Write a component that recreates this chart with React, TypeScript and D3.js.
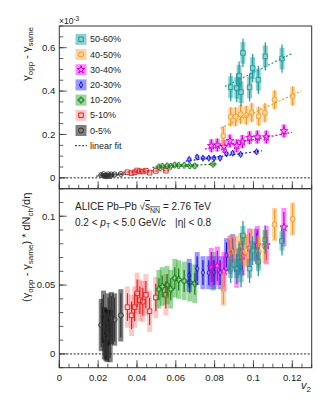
import React from "react";
import * as d3 from "d3";

const W = 332;
const H = 400;
const FONT = "'Liberation Sans', Arial, Helvetica, sans-serif";

// Centrality classes (legend order)
const classes = ["50-60%", "40-50%", "30-40%", "20-30%", "10-20%", "5-10%", "0-5%"];
const shapes = ["square", "circle", "star", "diamond", "cross", "square", "circle"];
const markerColors = ["#1a9a9a", "#e8a020", "#cc00cc", "#1010dd", "#1a7a1a", "#e02020", "#333333"];
const boxBase = ["#009999", "#ff9933", "#ff00ff", "#0000ff", "#009900", "#ff0000", "#000000"];
const boxAlpha = [0.45, 0.45, 0.45, 0.4, 0.4, 0.22, 0.5];

// v2 per class
const v2_5060 = [0.0883, 0.0914, 0.0926, 0.0936, 0.0946, 0.098, 0.0996, 0.1025, 0.1061, 0.1147];
const v2_4050 = [0.0845, 0.0883, 0.0908, 0.0934, 0.0963, 0.0991, 0.1027, 0.1059, 0.1109, 0.1202];
const v2_3040 = [0.0783, 0.0814, 0.0848, 0.0879, 0.0914, 0.0943, 0.098, 0.102, 0.1066, 0.1157];
const v2_2030 = [0.0669, 0.071, 0.074, 0.077, 0.0797, 0.0828, 0.0861, 0.0893, 0.0934, 0.1016];
const v2_1020 = [0.0513, 0.053, 0.0555, 0.0574, 0.0595, 0.0615, 0.0643, 0.0672, 0.0698, 0.0792];
const v2_0510 = [0.0351, 0.0372, 0.0388, 0.0401, 0.0415, 0.043, 0.0446, 0.0465, 0.0497, 0.0549];
const v2_0005 = [0.0216, 0.0228, 0.0232, 0.024, 0.0246, 0.0252, 0.0262, 0.0268, 0.0285, 0.0317];

// Top panel: gamma_opp - gamma_same (x 1e-3)
const top_5060 = [0.418, 0.414, 0.471, 0.395, 0.576, 0.417, 0.506, 0.452, 0.56, 0.55];
const top_4050 = [0.193, 0.282, 0.282, 0.293, 0.289, 0.301, 0.284, 0.3, 0.36, 0.377];
const top_3040 = [0.148, 0.151, 0.144, 0.17, 0.148, 0.167, 0.185, 0.188, 0.188, 0.216];
const top_2030 = [0.085, 0.096, 0.091, 0.091, 0.091, 0.091, 0.111, 0.114, 0.108, 0.12];
const top_1020 = [0.05, 0.053, 0.055, 0.053, 0.059, 0.057, 0.058, 0.056, 0.055, 0.063];
const top_0510 = [0.026, 0.022, 0.026, 0.034, 0.03, 0.029, 0.033, 0.024, 0.032, 0.033];
const top_0005 = [0.013, 0.017, 0.009, 0.009, 0.008, 0.016, 0.008, 0.016, 0.016, 0.018];

// Bottom panel: (gamma_opp - gamma_same) * dNch/deta
const bot_5060 = [0.062, 0.062, 0.07, 0.059, 0.086, 0.062, 0.075, 0.067, 0.083, 0.082];
const bot_4050 = [0.047, 0.074, 0.074, 0.076, 0.075, 0.079, 0.074, 0.078, 0.094, 0.098];
const bot_3040 = [0.063, 0.064, 0.06, 0.072, 0.062, 0.071, 0.077, 0.079, 0.079, 0.092];
const bot_2030 = [0.057, 0.062, 0.059, 0.059, 0.059, 0.059, 0.072, 0.075, 0.07, 0.079];
const bot_1020 = [0.047, 0.049, 0.05, 0.047, 0.055, 0.054, 0.053, 0.052, 0.051, 0.06];
const bot_0510 = [0.034, 0.028, 0.034, 0.044, 0.039, 0.038, 0.043, 0.031, 0.041, 0.043];
const bot_0005 = [0.021, 0.027, 0.015, 0.014, 0.013, 0.025, 0.013, 0.026, 0.025, 0.028];

const v2s = [v2_5060, v2_4050, v2_3040, v2_2030, v2_1020, v2_0510, v2_0005];
const tops = [top_5060, top_4050, top_3040, top_2030, top_1020, top_0510, top_0005];
const bots = [bot_5060, bot_4050, bot_3040, bot_2030, bot_1020, bot_0510, bot_0005];

// Uncertainties per class
const statTop = [0.065, 0.045, 0.03, 0.01, 0.007, 0.006, 0.006];
const sysTop = [0.05, 0.042, 0.03, 0.009, 0.007, 0.006, 0.006];
const statBot = [0.0105, 0.011, 0.011, 0.009, 0.008, 0.01, 0.016];
const sysBot = [0.007, 0.012, 0.014, 0.012, 0.014, 0.015, 0.019];

// Linear fits (top panel)
const fitX0 = [0.0853, 0.0831, 0.0749, 0.0651, 0.048, 0.033, 0.019];
const fitX1 = [0.1198, 0.1246, 0.1198, 0.1044, 0.081, 0.057, 0.034];
const fitY0 = [0.421, 0.229, 0.133, 0.077, 0.048, 0.026, 0.008];
const fitY1 = [0.573, 0.401, 0.21, 0.125, 0.064, 0.035, 0.017];

// Axes
const xTicks = [0, 0.02, 0.04, 0.06, 0.08, 0.1, 0.12];
const xTickLabels = ["0", "0.02", "0.04", "0.06", "0.08", "0.1", "0.12"];
const topTicks = [0, 0.2, 0.4, 0.6];
const topTickLabels = ["0", "0.2", "0.4", "0.6"];
const botTicks = [0, 0.05, 0.1];
const botTickLabels = ["0", "0.05", "0.1"];

const L = 59.3, R = 311.7, T = 26, M = 188.7, B = 367.7;
const x = d3.scaleLinear().domain([0, 0.13]).range([L, R]);
const yTop = d3.scaleLinear().domain([-0.05, 0.7]).range([M, T]);
const yBot = d3.scaleLinear().domain([-0.01, 0.12]).range([B, M]);

function markerPath(shape: string): string {
  switch (shape) {
    case "square":
      return d3.symbol(d3.symbolSquare, 21)() as string;
    case "circle":
      return d3.symbol(d3.symbolCircle, 20)() as string;
    case "star":
      return d3.symbol(d3.symbolStar, 19)() as string;
    case "diamond":
      return "M0,-3.2L1.6,0L0,3.2L-1.6,0Z";
    case "cross":
      return d3.symbol(d3.symbolCross, 18)() as string;
  }
  return "";
}

function minorTicks(scale: d3.ScaleLinear<number, number>, step: number) {
  const [a, b] = scale.domain();
  const out: number[] = [];
  const start = Math.ceil(a / step - 1e-9);
  const end = Math.floor(b / step + 1e-9);
  for (let i = start; i <= end; i++) out.push(i * step);
  return out;
}

function Points({ y, vals, stat, sys }: any) {
  const order = [6, 5, 4, 3, 2, 1, 0];
  const bw = 2.5;
  const half = 2.5;
  return (
    <g>
      {order.map((c) => (
        <g key={c}>
          {v2s[c].map((v, i) => (
            <rect key={"s" + i} x={x(v) - bw} width={bw * 2}
              y={y(vals[c][i] + sys[c])} height={Math.max(0, y(vals[c][i] - sys[c]) - y(vals[c][i] + sys[c]))}
              fill={boxBase[c]} fillOpacity={boxAlpha[c]} />
          ))}
          {v2s[c].map((v, i) => {
            const cy = y(vals[c][i]);
            const y1 = y(vals[c][i] + stat[c]);
            const y2 = y(vals[c][i] - stat[c]);
            return (
              <g key={"e" + i} stroke={markerColors[c]} strokeWidth={1.2}>
                {y1 < cy - half && <line x1={x(v)} x2={x(v)} y1={y1} y2={cy - half} />}
                {y2 > cy + half && <line x1={x(v)} x2={x(v)} y1={cy + half} y2={y2} />}
              </g>
            );
          })}
          {v2s[c].map((v, i) => (
            <path key={"m" + i} d={markerPath(shapes[c])}
              transform={`translate(${x(v)},${y(vals[c][i])})`}
              fill="none" stroke={markerColors[c]} strokeWidth={0.9} />
          ))}
        </g>
      ))}
    </g>
  );
}

function YAxis({ scale, ticks, labels, minorStep }: any) {
  const minors = minorTicks(scale, minorStep);
  return (
    <g>
      {minors.map((t: number, i: number) => (
        <line key={"n" + i} x1={L} x2={L + 4} y1={scale(t)} y2={scale(t)} stroke="#333" strokeWidth={0.8} />
      ))}
      {ticks.map((t: number, i: number) => (
        <g key={i}>
          <line x1={L} x2={L + 7.5} y1={scale(t)} y2={scale(t)} stroke="#333" strokeWidth={0.8} />
          <text x={L - 4} y={scale(t)} dy="0.35em" textAnchor="end" fontSize={9.5} fill="#222" fontFamily={FONT}>
            {labels[i]}
          </text>
        </g>
      ))}
    </g>
  );
}

function XTicks({ yPos, showLabels }: any) {
  const minors = minorTicks(x, 0.005);
  return (
    <g>
      {minors.map((t, i) => (
        <line key={"n" + i} x1={x(t)} x2={x(t)} y1={yPos} y2={yPos - 4} stroke="#333" strokeWidth={0.8} />
      ))}
      {xTicks.map((t, i) => (
        <g key={i}>
          <line x1={x(t)} x2={x(t)} y1={yPos} y2={yPos - 7.5} stroke="#333" strokeWidth={0.8} />
          {showLabels && (
            <text x={x(t)} y={yPos + 13} textAnchor="middle" fontSize={9.5} fill="#222" fontFamily={FONT}>
              {xTickLabels[i]}
            </text>
          )}
        </g>
      ))}
    </g>
  );
}

export default function App() {
  const legendY0 = 39.3;
  const legendDy = 15.2;
  return (
    <svg width={W} height={H} style={{ position: "absolute", left: 0, top: 0, background: "#fff" }}
      fontFamily={FONT}>
      <rect x={0} y={0} width={W} height={H} fill="#fff" />

      {/* zero lines */}
      <line x1={L} x2={R} y1={yTop(0)} y2={yTop(0)} stroke="#222" strokeWidth={1} strokeDasharray="2,1.6" />
      <line x1={L} x2={R} y1={yBot(0)} y2={yBot(0)} stroke="#222" strokeWidth={1} strokeDasharray="2,1.6" />

      {/* top panel data */}
      <Points y={yTop} vals={tops} stat={statTop} sys={sysTop} />
      {classes.map((c, i) => (
        <line key={"fit" + i} x1={x(fitX0[i])} x2={x(fitX1[i])} y1={yTop(fitY0[i])} y2={yTop(fitY1[i])}
          stroke={markerColors[i]} strokeWidth={1.2} strokeDasharray="2,2" />
      ))}

      {/* bottom panel data */}
      <Points y={yBot} vals={bots} stat={statBot} sys={sysBot} />

      {/* frames */}
      <rect x={L} y={T} width={R - L} height={M - T} fill="none" stroke="#333" strokeWidth={1} />
      <rect x={L} y={M} width={R - L} height={B - M} fill="none" stroke="#333" strokeWidth={1} />

      <YAxis scale={yTop} ticks={topTicks} labels={topTickLabels} minorStep={0.05} />
      <YAxis scale={yBot} ticks={botTicks} labels={botTickLabels} minorStep={0.01} />
      <XTicks yPos={M} showLabels={false} />
      <XTicks yPos={B} showLabels={true} />

      {/* x10^-3 */}
      <text x={59} y={24} fontSize={8.5} fill="#222">
        ×10<tspan dy={-3} fontSize={6.5}>-3</tspan>
      </text>

      {/* y axis titles */}
      <text transform={`translate(30,${T + 1}) rotate(-90)`} textAnchor="end" fontSize={11} fill="#222">
        γ<tspan dy={2.5} fontSize={8}>opp</tspan><tspan dy={-2.5}> - γ</tspan>
        <tspan dy={2.5} fontSize={8}>same</tspan>
      </text>
      <text transform={`translate(30,${M + 4}) rotate(-90)`} textAnchor="end" fontSize={11} fill="#222">
        (γ<tspan dy={2.5} fontSize={8}>opp</tspan><tspan dy={-2.5}> - γ</tspan>
        <tspan dy={2.5} fontSize={8}>same</tspan><tspan dy={-2.5}>) * dN</tspan>
        <tspan dy={2.5} fontSize={8}>ch</tspan><tspan dy={-2.5}>/dη</tspan>
      </text>

      {/* x axis title */}
      <text x={301} y={389} fontSize={11} fill="#222">
        <tspan fontStyle="italic">v</tspan><tspan dy={2.5} fontSize={8}>2</tspan>
      </text>

      {/* ALICE text */}
      <text x={75} y={210} fontSize={10} fill="#222">
        ALICE Pb–Pb √<tspan style={{ textDecoration: "overline" }}>s</tspan>
        <tspan dy={2.5} fontSize={7} style={{ textDecoration: "overline" }}>NN</tspan>
        <tspan dy={-2.5}> = 2.76 TeV</tspan>
      </text>
      <text x={75} y={225.5} fontSize={10} fill="#222">
        0.2 &lt; <tspan fontStyle="italic">p</tspan><tspan dy={2.5} fontSize={7}>T</tspan>
        <tspan dy={-2.5}> &lt; 5.0 GeV/</tspan><tspan fontStyle="italic">c</tspan>
        <tspan dx={9}>|η| &lt; 0.8</tspan>
      </text>

      {/* legend */}
      {classes.map((c, i) => {
        const cy = legendY0 + i * legendDy;
        return (
          <g key={"leg" + i}>
            <rect x={75.5} y={cy - 5.5} width={11} height={11} fill={boxBase[i]} fillOpacity={boxAlpha[i]} />
            <path d={markerPath(shapes[i])} transform={`translate(81,${cy})`} fill="none"
              stroke={markerColors[i]} strokeWidth={1} />
            <text x={90} y={cy} dy="0.35em" fontSize={9} fill="#222">{c}</text>
          </g>
        );
      })}
      <line x1={75} x2={87} y1={legendY0 + 7 * legendDy} y2={legendY0 + 7 * legendDy} stroke="#222"
        strokeWidth={1} strokeDasharray="2,1.6" />
      <text x={90} y={legendY0 + 7 * legendDy} dy="0.35em" fontSize={9} fill="#222">linear fit</text>
    </svg>
  );
}
